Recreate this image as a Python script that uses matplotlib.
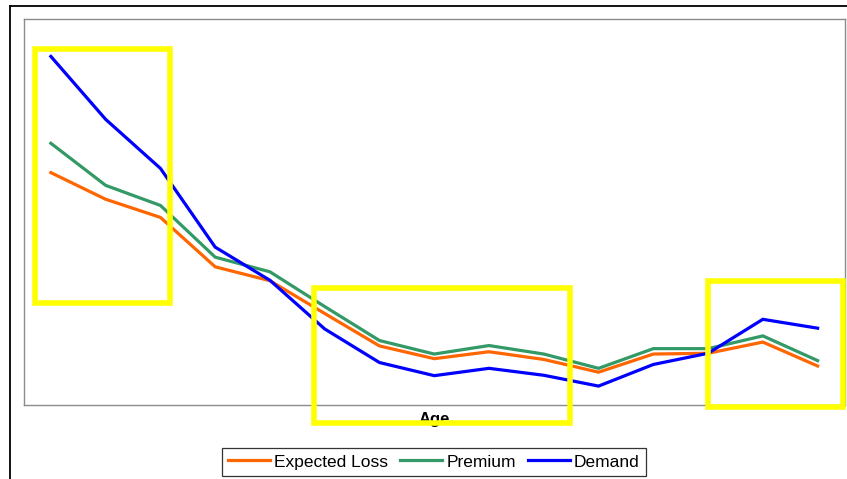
#!/usr/bin/env python
# -*- coding: utf-8 -*-
"""
Expected loss, premium and demand by age band, with highlighted regions.
Writes out.png.
"""
import matplotlib
matplotlib.use("Agg")  # no GUI
import matplotlib.pyplot as plt
from matplotlib.lines import Line2D
from matplotlib.patches import Rectangle

# age bands (15 categories, no tick labels drawn)
age_bands = list(range(15))

expected_loss = [60.2, 53.3, 48.6, 35.8, 32.2, 23.7, 15.3, 12.0, 13.8, 11.8, 8.5, 13.2, 13.4, 16.3, 10.1]
premium = [67.8, 56.9, 51.7, 38.3, 34.5, 25.5, 16.7, 13.2, 15.4, 13.2, 9.5, 14.6, 14.6, 17.9, 11.5]
demand = [90.3, 74.0, 61.3, 40.9, 32.3, 19.7, 11.0, 7.6, 9.5, 7.7, 4.9, 10.5, 13.4, 22.2, 19.9]

series_names = ["Expected Loss", "Premium", "Demand"]
series_colors = ["#FF6600", "#339966", "#0000FF"]

# highlighted regions: (x from, x to) in age-band units, (y from, y to) in value units
highlights = [(-0.29, 2.18, 26.3, 92.3), (4.81, 9.48, -4.66, 30.3), (11.99, 14.46, -0.5, 32.1)]

W, H = 847, 479


def px(x, y):
    """pixel coords (origin top-left) -> figure fraction"""
    return x / W, 1 - y / H


def main():
    plt.rcParams["font.family"] = ["Liberation Sans", "DejaVu Sans"]
    fig = plt.figure(figsize=(W / 100, H / 100), dpi=100)
    fig.patch.set_facecolor("white")

    # outer frame (top and left edges only visible)
    fig.add_artist(Line2D([10 / W, 1.0], [1 - 6 / H, 1 - 6 / H], transform=fig.transFigure,
                          color="black", lw=1.3))
    fig.add_artist(Line2D([10 / W, 10 / W], [0.0, 1 - 6 / H], transform=fig.transFigure,
                          color="black", lw=1.3))

    left, top, right, bottom = 23.5, 19, 845, 405
    ax = fig.add_axes([left / W, 1 - bottom / H, (right - left) / W, (bottom - top) / H])
    for sp in ax.spines.values():
        sp.set_color("#8c8c8c")
        sp.set_linewidth(1.0)
    ax.set_xticks([])
    ax.set_yticks([])
    ax.set_xlim(-0.5, len(age_bands) - 0.5)
    ax.set_ylim(0, 100)

    data = [expected_loss, premium, demand]
    for name, vals, col in zip(series_names, data, series_colors):
        ax.plot(age_bands, vals, color=col, lw=2.3, label=name, solid_joinstyle="miter")

    fig.text(*px(434, 424), "Age", ha="center", va="baseline", fontsize=12, fontweight="bold")

    # yellow boxes, drawn over everything (including the axis title)
    for x0, x1, y0, y1 in highlights:
        rect = Rectangle((x0, y0), x1 - x0, y1 - y0, transform=ax.transData,
                         fill=False, edgecolor="#FFFF00", lw=4, zorder=10, clip_on=False)
        fig.add_artist(rect)

    h, lab = ax.get_legend_handles_labels()
    leg = fig.legend(h, lab, loc="center", bbox_to_anchor=px(434, 462), ncol=3,
                     fontsize=12.5, frameon=True, fancybox=False, handlelength=2.4,
                     handletextpad=0.25, columnspacing=0.7, borderpad=0.35,
                     borderaxespad=0)
    leg.get_frame().set_edgecolor("black")
    leg.get_frame().set_linewidth(0.9)

    fig.savefig("out.png", dpi=100)
    plt.close(fig)


if __name__ == "__main__":
    main()
